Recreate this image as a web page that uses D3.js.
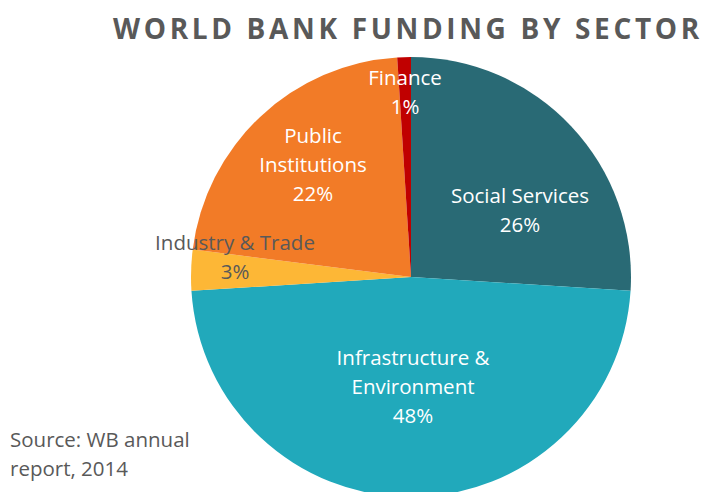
<!DOCTYPE html>
<html><head><meta charset="utf-8">
<script src="https://cdn.jsdelivr.net/npm/d3@7"></script>
<style>body{margin:0;background:#fff;}svg{display:block;}</style>
</head><body>
<svg id="c" width="706" height="492"></svg>
<script>
const categories = ["Social Services", "Infrastructure & Environment", "Industry & Trade", "Public Institutions", "Finance"];
const values = [26, 48, 3, 22, 1];
const colors = ["#296a75", "#21a9bb", "#fdb736", "#f27b27", "#c00000"];
const labelLines = [["Social Services"], ["Infrastructure &", "Environment"], ["Industry & Trade"], ["Public", "Institutions"], ["Finance"]];
const labelColors = ["#fff", "#fff", "#595959", "#fff", "#fff"];
const labelPos = [[520, 203], [413, 365], [235, 250], [313, 143], [405, 85]];

const svg = d3.select("#c");
const cx = 411, cy = 277, r = 220;
const g = svg.append("g").attr("transform", `translate(${cx},${cy})`);
const pie = d3.pie().sort(null).value(d => d);
const arc = d3.arc().innerRadius(0).outerRadius(r);
const arcs = pie(values);
g.selectAll("path").data(arcs).join("path")
  .attr("d", arc).attr("fill", (d, i) => colors[i]);

const font = "'Open Sans', sans-serif";
const lh = 29;
labelLines.forEach((lines, i) => {
  const t = svg.append("text")
    .attr("x", labelPos[i][0]).attr("y", labelPos[i][1])
    .attr("text-anchor", "middle")
    .attr("font-family", font).attr("font-size", 20.5)
    .attr("fill", labelColors[i]);
  lines.concat([values[i] + "%"]).forEach((s, k) => {
    t.append("tspan").attr("x", labelPos[i][0]).attr("dy", k === 0 ? 0 : lh).text(s);
  });
});

svg.append("text").attr("x", 113).attr("y", 39)
  .attr("font-family", font).attr("font-weight", 700).attr("font-size", 28)
  .attr("letter-spacing", 3.8).attr("fill", "#595959")
  .attr("textLength", 590).attr("lengthAdjust", "spacing")
  .text("WORLD BANK FUNDING BY SECTOR");

const src = svg.append("text").attr("font-family", font).attr("font-size", 20.5).attr("fill", "#595959");
src.append("tspan").attr("x", 10).attr("y", 447).text("Source: WB annual");
src.append("tspan").attr("x", 10).attr("y", 476).text("report, 2014");
</script>
</body></html>
